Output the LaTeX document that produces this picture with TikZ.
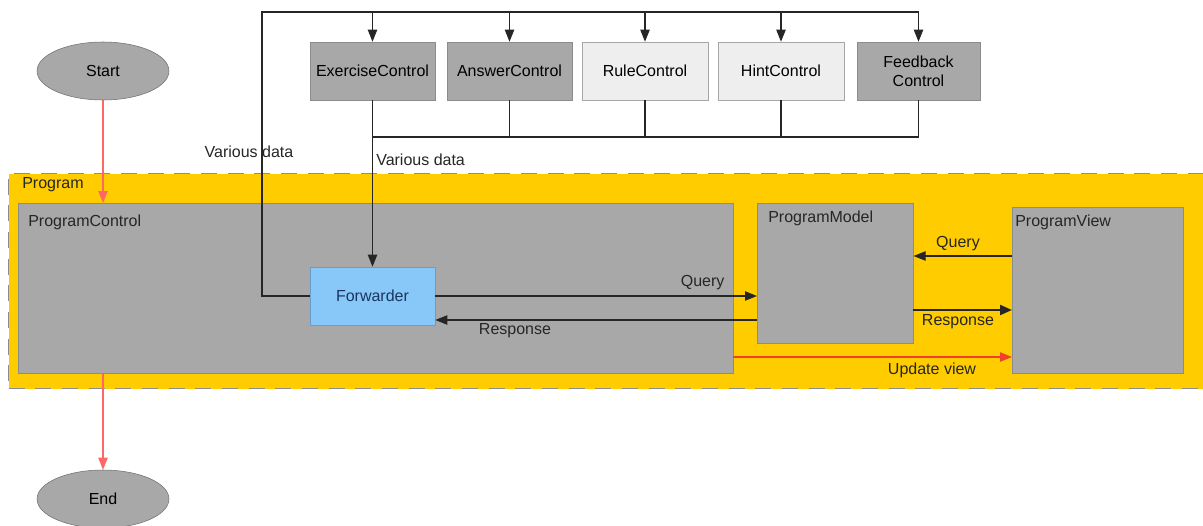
\documentclass[tikz,border=0pt]{standalone}
\usepackage{fontspec}
\setmainfont{Liberation Sans}
\usetikzlibrary{arrows.meta,shapes.geometric}
\definecolor{boxgray}{HTML}{A8A8A8}
\definecolor{boxedge}{HTML}{8C8C8C}
\definecolor{lightbox}{HTML}{EEEEEE}
\definecolor{lightedge}{HTML}{A6A6A6}
\definecolor{progyellow}{HTML}{FFCC00}
\definecolor{fwdblue}{HTML}{88C8F8}
\definecolor{fwdedge}{HTML}{6A9CCC}
\definecolor{fwdtext}{HTML}{1A3560}
\definecolor{redarrow}{HTML}{F0402A}
\begin{document}
\begin{tikzpicture}[x=0.75pt,y=-0.75pt,
  every node/.style={font=\fontsize{12}{14}\selectfont, inner sep=0pt},
  darkbox/.style={draw=boxedge, fill=boxgray, minimum width=#1*0.75pt, minimum height=58*0.75pt, align=center},
  lightbx/.style={draw=lightedge, fill=lightbox, minimum width=#1*0.75pt, minimum height=58*0.75pt, align=center},
  oval/.style={ellipse, draw=boxedge!80!black, fill=boxgray, minimum width=132*0.75pt, minimum height=58*0.75pt},
  conn/.style={draw=black!85, line width=0.8pt},
  arr/.style={conn, -{Triangle[length=9pt,width=7pt]}},
  redarr/.style={draw=redarrow, line width=0.8pt, -{Triangle[length=9pt,width=7pt]}},
  lbl/.style={text=black!85}
]
\useasboundingbox (0,0) rectangle (1203,525);
\fill[white] (0,0) rectangle (1203,525);

% Program container
\node[draw=boxedge, fill=progyellow, dash pattern=on 12pt off 8pt, line width=0.9pt,
      minimum width=1210*0.75pt, minimum height=215*0.75pt, anchor=north west] (prog) at (8,173) {};
\node[anchor=north west, lbl] (proglbl) at (22,177) {Program};

% ProgramControl
\node[draw=boxedge, fill=boxgray, minimum width=715*0.75pt, minimum height=170*0.75pt, anchor=north west] (pc) at (18,203) {};
\node[anchor=north west, lbl] (pclbl) at (28,215) {ProgramControl};

% ProgramModel
\node[draw=boxedge, fill=boxgray, minimum width=156*0.75pt, minimum height=140*0.75pt, anchor=north west] (pm) at (757,203) {};
\node[anchor=north west, lbl] (pmlbl) at (768,211) {ProgramModel};

% ProgramView
\node[draw=boxedge, fill=boxgray, minimum width=171*0.75pt, minimum height=166*0.75pt, anchor=north west] (pv) at (1012,207) {};
\node[anchor=north west, lbl] (pvlbl) at (1015,215) {ProgramView};

% Forwarder
\node[draw=fwdedge, fill=fwdblue, minimum width=125*0.75pt, minimum height=58*0.75pt, text=fwdtext] (fwd) at (372.5,296) {Forwarder};

% Start / End
\node[oval] (start) at (103,71) {Start};
\node[oval] (end) at (103,499) {End};

% top controls
\node[darkbox=125] (ex) at (372.5,71) {ExerciseControl};
\node[darkbox=125] (an) at (509.5,71) {AnswerControl};
\node[lightbx=126] (ru) at (645,71) {RuleControl};
\node[lightbx=126] (hi) at (781,71) {HintControl};
\node[darkbox=123] (fb) at (918.5,71) {Feedback\\Control};

% top bus
\coordinate (tl) at (262,12);
\draw[conn] (fwd.west) -| (tl) -- (tl -| fb.north);
\foreach \n in {ex,an,ru,hi,fb}{
  \draw[arr] (tl -| \n.north) -- (\n.north);
}
% bottom bus
\coordinate (bb) at (372.5,137);
\draw[conn] (fb.south) |- (bb);
\foreach \n in {an,ru,hi}{
  \draw[conn] (\n.south) -- (\n.south |- bb);
}
\draw[arr] (ex.south) -- (fwd.north);

\node[lbl] (vd1) at (249,152) {Various data};
\node[lbl, anchor=west] (vd2) at (376,160) {Various data};

% Forwarder <-> Model
\draw[arr] (fwd.east) -- (pm.west |- fwd.east) node[pos=1, anchor=south east, lbl, xshift=-24pt, yshift=4pt] (q1) {Query};
\coordinate (r1a) at (757,320);
\draw[arr] (r1a) -- (fwd.east |- r1a);
\node[lbl] (r1) at (515,331) {Response};

% Model <-> View
\coordinate (q2a) at (1012,256);
\draw[arr] (q2a) -- (pm.east |- q2a);
\node[lbl] (q2) at (958,244) {Query};
\coordinate (r2a) at (913,310);
\draw[conn, line width=1.6pt, -{Triangle[length=9pt,width=7.5pt]}] (r2a) -- (pv.west |- r2a);
\node[lbl] (r2) at (958,322) {Response};

% Update view
\coordinate (uva) at (733,357);
\draw[redarr] (uva) -- (pv.west |- uva);
\node[lbl] (uv) at (932,370) {Update view};

% start/end arrows
\draw[redarr, draw=red!60] (start.south) -- (pc.north -| start.south);
\draw[redarr, draw=red!60] (pc.south -| end.north) -- (end.north);
\end{tikzpicture}
\end{document}
